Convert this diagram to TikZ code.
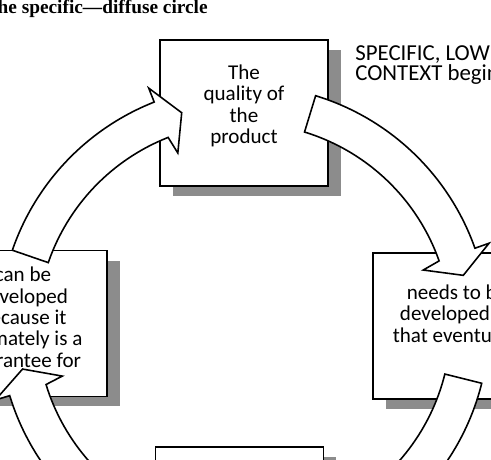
\documentclass[tikz,border=0pt]{standalone}
\usepackage{fontspec}
\setmainfont{Carlito}
\newfontfamily\headfont{Liberation Serif}
\usetikzlibrary{calc}
\usetikzlibrary{shadows}

\tikzset{
  cyclebox/.style={draw, line width=1pt, fill=white,
    minimum width=3.36cm, minimum height=2.92cm,
    general shadow={fill=black!45, shadow xshift=0.26cm, shadow yshift=-0.2cm}},
  boxtext/.style={align=center, inner sep=0pt, font=\fontsize{12}{12.2}\selectfont},
  blockarrow/.style={draw, line width=0.9pt, fill=white, line join=miter}
}

% hub, start angle, end angle
\newcommand{\roundarrow}[3]{%
  \draw[blockarrow] ($(#1)+(#2:207)$) arc[start angle=#2, end angle=#3, radius=207]
    -- ($(#1)+({#3+1}:189)$) -- ($(#1)+({#3+5.5}:226)$)
    -- ($(#1)+(#3:260)$) -- ($(#1)+(#3:245)$)
    arc[start angle=#3, end angle=#2, radius=245] -- cycle;}

\begin{document}
\begin{tikzpicture}[x=0.02cm, y=-0.02cm]
  \useasboundingbox (0,0) rectangle (491,460);
  \clip (0,0) rectangle (491,460);

  \node[anchor=base east, inner sep=0pt,
    font=\headfont\bfseries\fontsize{11}{12}\selectfont]
    (title) at (208,13.5) {The specific—diffuse circle};
  \node[anchor=north west, inner sep=0pt, align=left,
    font=\fontsize{13}{11.5}\selectfont] (specific) at (355,45)
    {SPECIFIC, LOW\\CONTEXT begins};

  \node[cyclebox] (quality) at (244,113) {};
  \node[cyclebox] (needs) at (457,326) {};
  \node[cyclebox] (lower) at (239.5,520) {};
  \node[cyclebox] (canbe) at (23,323.5) {};

  \node[boxtext] (qualitytext) at (244,106) {The\\quality of\\the\\product};
  \node[boxtext] (needstext) at (457,315) {needs to be\\developed so\\that eventually};
  \node[boxtext] (canbetext) at (23,319)
    {can be\\developed\\because it\\ultimately is a\\guarantee for};

  \coordinate (hubtop) at (244,330);
  \coordinate (hubbot) at (244,324);
  \roundarrow{hubtop}{199}{248.5}
  \roundarrow{hubtop}{287}{340.5}
  \roundarrow{hubbot}{14}{63}
  \roundarrow{hubbot}{113}{163}
\end{tikzpicture}
\end{document}
